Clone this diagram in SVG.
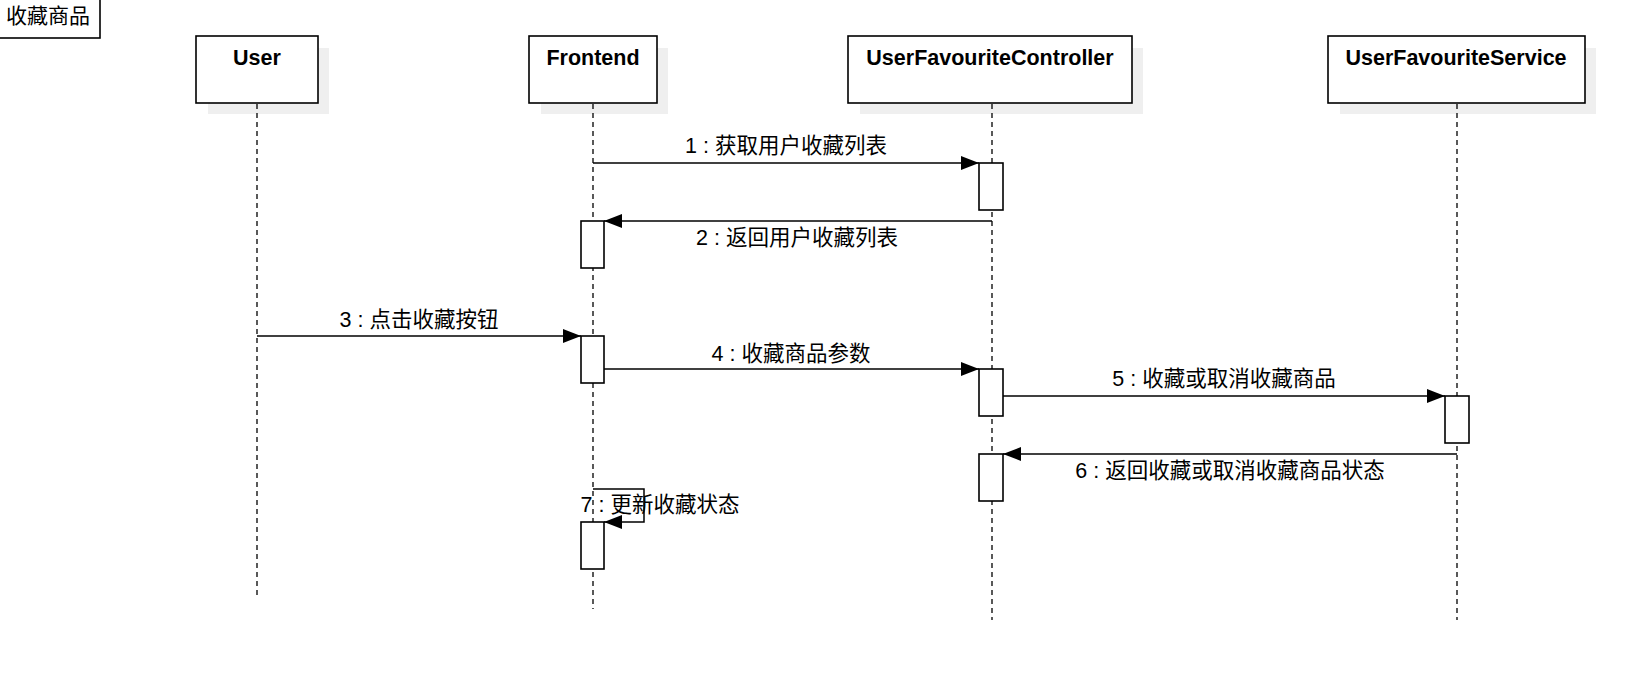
<svg xmlns="http://www.w3.org/2000/svg" width="1626" height="700" viewBox="0 0 1626 700">
<style>
text{font-family:"Liberation Sans","Noto Sans CJK SC",sans-serif;fill:#000}
.name{font-size:21.5px;font-weight:bold;text-anchor:middle}
.lbl{font-size:21.5px;text-anchor:middle}
.box{fill:#fff;stroke:#000;stroke-width:1.6}
.shadow{fill:#efefef;stroke:none}
.life{stroke:#000;stroke-width:1.3;stroke-dasharray:5 4;fill:none}
.act{fill:#fff;stroke:#000;stroke-width:1.6}
.msg{stroke:#000;stroke-width:1.5;fill:none;marker-end:url(#arr)}
</style>
<defs>
<marker id="arr" viewBox="0 0 18 14" refX="18" refY="7" markerWidth="18" markerHeight="14" orient="auto" markerUnits="userSpaceOnUse">
<path d="M0,0 L18,7 L0,14 Z" fill="#000"/>
</marker>
</defs>
<rect width="1626" height="700" fill="#fff"/>
<g id="frame">
<rect x="-2" y="-10" width="102" height="48" class="box"/>
<text x="48" y="23" style="font-size:21px;text-anchor:middle">收藏商品</text>
</g>
<g id="user">
<rect x="208" y="48" width="121" height="66" class="shadow"/>
<rect x="196" y="36" width="122" height="67" class="box"/>
<text x="257" y="65" class="name">User</text>
</g>
<g id="frontend">
<rect x="541" y="48" width="127" height="66" class="shadow"/>
<rect x="529" y="36" width="128" height="67" class="box"/>
<text x="593" y="65" class="name">Frontend</text>
</g>
<g id="controller">
<rect x="860" y="48" width="283" height="66" class="shadow"/>
<rect x="848" y="36" width="284" height="67" class="box"/>
<text x="990" y="65" class="name">UserFavouriteController</text>
</g>
<g id="service">
<rect x="1340" y="48" width="256" height="66" class="shadow"/>
<rect x="1328" y="36" width="257" height="67" class="box"/>
<text x="1456" y="65" class="name">UserFavouriteService</text>
</g>
<g id="lifelines">
<line x1="257" y1="104" x2="257" y2="596" class="life"/>
<line x1="593" y1="104" x2="593" y2="609" class="life"/>
<line x1="992" y1="104" x2="992" y2="620" class="life"/>
<line x1="1457" y1="104" x2="1457" y2="620" class="life"/>
</g>
<g id="activations">
<rect x="979" y="163" width="24" height="47" class="act"/>
<rect x="581" y="221" width="23" height="47" class="act"/>
<rect x="581" y="336" width="23" height="47" class="act"/>
<rect x="979" y="369" width="24" height="47" class="act"/>
<rect x="1445" y="396" width="24" height="47" class="act"/>
<rect x="979" y="454" width="24" height="47" class="act"/>
<rect x="581" y="522" width="23" height="47" class="act"/>
</g>
<g id="connectors">
<line x1="593" y1="163" x2="979" y2="163" class="msg"/>
<line x1="992" y1="221" x2="604" y2="221" class="msg"/>
<line x1="257" y1="336" x2="581" y2="336" class="msg"/>
<line x1="604" y1="369" x2="979" y2="369" class="msg"/>
<line x1="1003" y1="396" x2="1445" y2="396" class="msg"/>
<line x1="1457" y1="454" x2="1003" y2="454" class="msg"/>
<path d="M593,489 H644 V522 H604" class="msg"/>
</g>
<g id="labels">
<text x="786" y="153" class="lbl">1 : 获取用户收藏列表</text>
<text x="797" y="245" class="lbl">2 : 返回用户收藏列表</text>
<text x="419" y="327" class="lbl">3 : 点击收藏按钮</text>
<text x="791" y="361" class="lbl">4 : 收藏商品参数</text>
<text x="1224" y="386" class="lbl">5 : 收藏或取消收藏商品</text>
<text x="1230" y="478" class="lbl">6 : 返回收藏或取消收藏商品状态</text>
<text x="660" y="512" class="lbl">7 : 更新收藏状态</text>
</g>
</svg>
